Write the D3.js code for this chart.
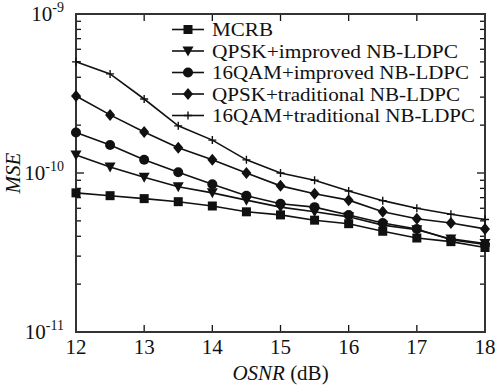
<!DOCTYPE html>
<html>
<head>
<meta charset="utf-8">
<script src="https://cdn.jsdelivr.net/npm/d3@7"></script>
<style>
  body { margin: 0; background: #fff; }
  text { font-family: "Liberation Serif", "DejaVu Serif", serif; fill: #111; }
</style>
</head>
<body>
<script>
// OSNR values (dB)
const osnr = [12, 12.5, 13, 13.5, 14, 14.5, 15, 15.5, 16, 16.5, 17, 17.5, 18];

// MSE series
const mcrb = [7.5e-11, 7.2e-11, 6.9e-11, 6.6e-11, 6.2e-11, 5.7e-11, 5.45e-11, 5.05e-11, 4.8e-11, 4.3e-11, 3.9e-11, 3.7e-11, 3.4e-11];
const qpskImproved = [1.3e-10, 1.09e-10, 9.4e-11, 8.2e-11, 7.5e-11, 6.75e-11, 6.1e-11, 5.7e-11, 5.3e-11, 4.7e-11, 4.4e-11, 3.85e-11, 3.6e-11];
const qamImproved = [1.8e-10, 1.5e-10, 1.21e-10, 1.01e-10, 8.5e-11, 7.2e-11, 6.4e-11, 6.1e-11, 5.45e-11, 4.85e-11, 4.45e-11, 3.8e-11, 3.55e-11];
const qpskTraditional = [3.05e-10, 2.32e-10, 1.81e-10, 1.44e-10, 1.21e-10, 1.0e-10, 8.3e-11, 7.4e-11, 6.75e-11, 5.7e-11, 5.15e-11, 4.85e-11, 4.45e-11];
const qamTraditional = [5.0e-10, 4.2e-10, 2.92e-10, 1.98e-10, 1.61e-10, 1.21e-10, 1.0e-10, 9.0e-11, 7.7e-11, 6.7e-11, 6.0e-11, 5.5e-11, 5.1e-11];

const seriesNames = ["MCRB", "QPSK+improved NB-LDPC", "16QAM+improved NB-LDPC", "QPSK+traditional NB-LDPC", "16QAM+traditional NB-LDPC"];
const seriesValues = [mcrb, qpskImproved, qamImproved, qpskTraditional, qamTraditional];
const seriesMarkers = ["square", "triangleDown", "circle", "diamond", "plus"];

const xTicks = [12, 13, 14, 15, 16, 17, 18];
const yMajor = [1e-11, 1e-10, 1e-9];
const yMajorLabels = ["-11", "-10", "-9"];

const width = 497, height = 385;
const plot = { left: 76, right: 485, top: 14, bottom: 332 };
const ink = "#111";

const svg = d3.select("body").append("svg")
    .attr("width", width)
    .attr("height", height);

const x = d3.scaleLinear().domain([12, 18]).range([plot.left, plot.right]);
const y = d3.scaleLog().domain([1e-11, 1e-9]).range([plot.bottom, plot.top]);

// minor log ticks 2..9 for each decade
let yMinor = [];
[1e-11, 1e-10].forEach(d => {
    for (let k = 2; k <= 9; k++) yMinor.push(d * k);
});

// ticks, pointing inward on all four sides
const tickG = svg.append("g").attr("stroke", ink).attr("stroke-width", 1.3);
xTicks.forEach(t => {
    tickG.append("line").attr("x1", x(t)).attr("x2", x(t)).attr("y1", plot.bottom).attr("y2", plot.bottom - 7);
    tickG.append("line").attr("x1", x(t)).attr("x2", x(t)).attr("y1", plot.top).attr("y2", plot.top + 7);
});
yMajor.forEach(t => {
    tickG.append("line").attr("x1", plot.left).attr("x2", plot.left + 8).attr("y1", y(t)).attr("y2", y(t));
    tickG.append("line").attr("x1", plot.right).attr("x2", plot.right - 8).attr("y1", y(t)).attr("y2", y(t));
});
yMinor.forEach(t => {
    tickG.append("line").attr("x1", plot.left).attr("x2", plot.left + 5).attr("y1", y(t)).attr("y2", y(t));
    tickG.append("line").attr("x1", plot.right).attr("x2", plot.right - 5).attr("y1", y(t)).attr("y2", y(t));
});

// frame
svg.append("rect")
    .attr("x", plot.left).attr("y", plot.top)
    .attr("width", plot.right - plot.left)
    .attr("height", plot.bottom - plot.top)
    .attr("fill", "none")
    .attr("stroke", "#333")
    .attr("stroke-width", 2);

// x tick labels
svg.selectAll(".xlab").data(xTicks).enter().append("text")
    .attr("class", "xlab")
    .attr("x", d => x(d))
    .attr("y", plot.bottom + 22)
    .attr("text-anchor", "middle")
    .attr("font-size", 21)
    .text(d => d);

// y tick labels: 10 with superscript exponent
yMajor.forEach((t, i) => {
    const lab = svg.append("text")
        .attr("x", plot.left - 12)
        .attr("y", y(t) + 7)
        .attr("text-anchor", "end")
        .attr("font-size", 21);
    lab.append("tspan").text("10");
    lab.append("tspan").attr("dy", -9).attr("font-size", 14).text(yMajorLabels[i]);
});

// axis titles
svg.append("text")
    .attr("transform", "translate(20," + ((plot.top + plot.bottom) / 2) + ") rotate(-90)")
    .attr("text-anchor", "middle")
    .attr("font-size", 21)
    .attr("font-style", "italic")
    .text("MSE");

const xt = svg.append("text")
    .attr("x", (plot.left + plot.right) / 2)
    .attr("y", 380)
    .attr("text-anchor", "middle")
    .attr("font-size", 21);
xt.append("tspan").attr("font-style", "italic").text("OSNR");
xt.append("tspan").text(" (dB)");

// marker drawing
function drawMarker(g, type, cx, cy) {
    if (type === "square") {
        g.append("rect").attr("x", cx - 4.5).attr("y", cy - 4.5).attr("width", 9).attr("height", 9).attr("fill", ink);
    } else if (type === "circle") {
        g.append("circle").attr("cx", cx).attr("cy", cy).attr("r", 5).attr("fill", ink);
    } else if (type === "triangleDown") {
        g.append("path").attr("d", `M${cx - 5.5},${cy - 4.5}L${cx + 5.5},${cy - 4.5}L${cx},${cy + 5.5}Z`).attr("fill", ink);
    } else if (type === "diamond") {
        g.append("path").attr("d", `M${cx},${cy - 6}L${cx + 5},${cy}L${cx},${cy + 6}L${cx - 5},${cy}Z`).attr("fill", ink);
    } else if (type === "plus") {
        g.append("path").attr("d", `M${cx - 4},${cy}L${cx + 4},${cy}M${cx},${cy - 4}L${cx},${cy + 4}`)
            .attr("stroke", ink).attr("stroke-width", 1.4);
    }
}

const line = d3.line()
    .x((d, i) => x(osnr[i]))
    .y(d => y(d));

seriesValues.forEach((vals, s) => {
    const g = svg.append("g");
    g.append("path")
        .datum(vals)
        .attr("d", line)
        .attr("fill", "none")
        .attr("stroke", ink)
        .attr("stroke-width", 1.6);
    vals.forEach((v, i) => drawMarker(g, seriesMarkers[s], x(osnr[i]), y(v)));
});

// legend (rows are tight in the original, text stretched to its width)
const legendWidths = [61, 246, 257, 248, 263];
const legend = svg.append("g");
seriesNames.forEach((name, i) => {
    const ly = 29.5 + i * 21.5;
    legend.append("line")
        .attr("x1", 172).attr("x2", 204)
        .attr("y1", ly).attr("y2", ly)
        .attr("stroke", ink).attr("stroke-width", 1.6);
    drawMarker(legend, seriesMarkers[i], 188, ly);
    legend.append("text")
        .attr("x", 212)
        .attr("y", ly + 6.5)
        .attr("font-size", 19)
        .attr("textLength", legendWidths[i])
        .attr("lengthAdjust", "spacingAndGlyphs")
        .text(name);
});
</script>
</body>
</html>
